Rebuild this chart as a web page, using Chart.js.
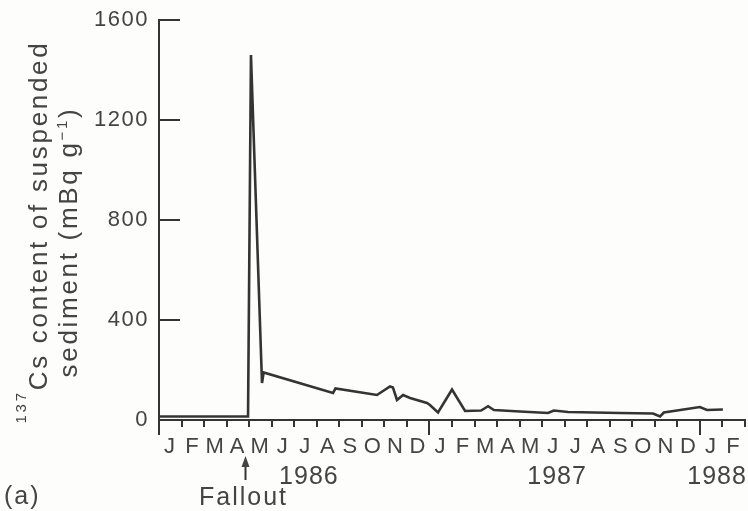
<!DOCTYPE html>
<html>
<head>
<meta charset="utf-8">
<script src="https://cdn.jsdelivr.net/npm/chart.js@4.4.0/dist/chart.umd.min.js"></script>
<style>
  html, body { margin: 0; padding: 0; background: #fdfdfb; }
  #wrap { width: 748px; height: 511px; position: relative; }
</style>
</head>
<body>
<div id="wrap"><canvas id="c" width="748" height="511"></canvas></div>
<script>
// Sampling times, in months since 1 January 1986
const sampleMonths = [0, 3.95, 4.08, 4.57, 4.64, 7.72, 7.83, 9.67, 10.25, 10.38, 10.56, 10.83,
  11.14, 11.89, 12.02, 12.38, 13.0, 13.58, 14.29, 14.6, 14.86, 16.02, 17.26, 17.52, 18.15,
  20.45, 21.92, 22.23, 22.4, 24.0, 24.31, 25.02];
// 137Cs content of suspended sediment (mBq g-1)
const csContent = [14, 14, 1460, 148, 190, 108, 126, 100, 134, 130, 80, 100,
  88, 68, 60, 30, 122, 36, 38, 55, 40, 34, 28, 38, 32,
  28, 26, 14, 30, 52, 40, 42];
// Month initials, Jan 1986 to Feb 1988
const monthLetters = ['J','F','M','A','M','J','J','A','S','O','N','D',
  'J','F','M','A','M','J','J','A','S','O','N','D','J','F'];
const yTicks = [0, 400, 800, 1200, 1600];
const yearLabels = ['1986', '1987', '1988'];
const yearLabelAt = [6.65, 17.66, 24.76];
const yearStarts = [0, 12, 24];
const falloutAt = 3.82; // 26 April 1986

const INK = '#343434';
const TEXT = '#444444';
const FONT = "'Liberation Sans', Arial, Helvetica, sans-serif";

function drawRotatedLine(ctx, parts, baselineX, centerY, spacing) {
  ctx.save();
  ctx.translate(baselineX, centerY);
  ctx.rotate(-Math.PI / 2);
  ctx.letterSpacing = spacing;
  ctx.textBaseline = 'alphabetic';
  ctx.textAlign = 'left';
  let total = 0;
  parts.forEach(p => { ctx.font = p.font; p.w = ctx.measureText(p.text).width; total += p.w; });
  let u = -total / 2;
  parts.forEach(p => { ctx.font = p.font; ctx.fillText(p.text, u, -p.rise); u += p.w; });
  ctx.restore();
}

const extras = {
  id: 'extras',
  beforeDraw(chart) {
    chart.ctx.letterSpacing = '1.5px';
  },
  afterDraw(chart) {
    const ctx = chart.ctx;
    const xs = chart.scales.x;
    const bottom = chart.chartArea.bottom;
    ctx.save();
    // longer ticks at the start of each year
    ctx.strokeStyle = INK;
    ctx.lineWidth = 2;
    yearStarts.forEach(v => {
      const px = Math.round(xs.getPixelForValue(v));
      ctx.beginPath();
      ctx.moveTo(px, bottom);
      ctx.lineTo(px, bottom + 15);
      ctx.stroke();
    });
    // year labels
    ctx.fillStyle = TEXT;
    ctx.font = '25px ' + FONT;
    ctx.letterSpacing = '1px';
    ctx.textAlign = 'center';
    ctx.textBaseline = 'alphabetic';
    yearLabels.forEach((t, i) => ctx.fillText(t, xs.getPixelForValue(yearLabelAt[i]), 484));
    // fallout marker
    const fx = Math.round(xs.getPixelForValue(falloutAt)) + 0.5;
    ctx.beginPath();
    ctx.moveTo(fx, 480);
    ctx.lineTo(fx, 463);
    ctx.stroke();
    ctx.beginPath();
    ctx.moveTo(fx, 456);
    ctx.lineTo(fx - 4, 467);
    ctx.lineTo(fx + 4, 467);
    ctx.closePath();
    ctx.fill();
    ctx.letterSpacing = '2px';
    ctx.fillText('Fallout', fx - 2, 505);
    ctx.textAlign = 'left';
    ctx.fillText('(a)', 4, 504);
    ctx.restore();

    // y-axis title, two rotated lines
    ctx.save();
    ctx.fillStyle = TEXT;
    drawRotatedLine(ctx, [
      { text: '137', font: '15px ' + FONT, rise: 21 },
      { text: 'Cs content of suspended', font: '26px ' + FONT, rise: 0 }
    ], 47, 232, '2.7px');
    drawRotatedLine(ctx, [
      { text: 'sediment (mBq g', font: '26px ' + FONT, rise: 0 },
      { text: '\u22121', font: '15px ' + FONT, rise: 10 },
      { text: ')', font: '26px ' + FONT, rise: 0 }
    ], 77, 242, '2.7px');
    ctx.restore();
  }
};

new Chart(document.getElementById('c'), {
  type: 'line',
  data: {
    datasets: [{
      data: sampleMonths.map((m, i) => ({ x: m, y: csContent[i] })),
      borderColor: INK,
      borderWidth: 2.6,
      pointRadius: 0,
      tension: 0,
      fill: false
    }]
  },
  options: {
    responsive: false,
    animation: false,
    events: [],
    layout: { padding: { top: 20, right: 3, left: 0, bottom: 0 } },
    plugins: { legend: { display: false }, tooltip: { enabled: false }, title: { display: false } },
    scales: {
      x: {
        type: 'linear',
        min: 0,
        max: monthLetters.length,
        afterFit(s) { s.height = 91; s.paddingLeft = 0; s.paddingRight = 0; },
        afterBuildTicks(s) { s.ticks = monthLetters.map((_, i) => ({ value: i })).concat([{ value: monthLetters.length }]); },
        border: { color: INK, width: 2 },
        grid: { drawOnChartArea: false, drawTicks: true, tickLength: 7, color: INK, lineWidth: 2 },
        ticks: {
          autoSkip: false,
          maxRotation: 0,
          labelOffset: 11.27,
          padding: 7,
          color: TEXT,
          font: { size: 22, family: FONT },
          callback: v => monthLetters[v] || ''
        }
      },
      y: {
        min: 0,
        max: 1600,
        afterFit(s) { s.width = 159; s.paddingTop = 0; s.paddingBottom = 0; },
        afterBuildTicks(s) { s.ticks = yTicks.map(v => ({ value: v })); },
        border: { color: INK, width: 2 },
        grid: { drawOnChartArea: false, drawTicks: true, tickLength: -21, color: INK, lineWidth: 2 },
        ticks: {
          padding: 31,
          color: TEXT,
          font: { size: 22, family: FONT },
          callback: v => String(v)
        }
      }
    }
  },
  plugins: [extras]
});
</script>
</body>
</html>
